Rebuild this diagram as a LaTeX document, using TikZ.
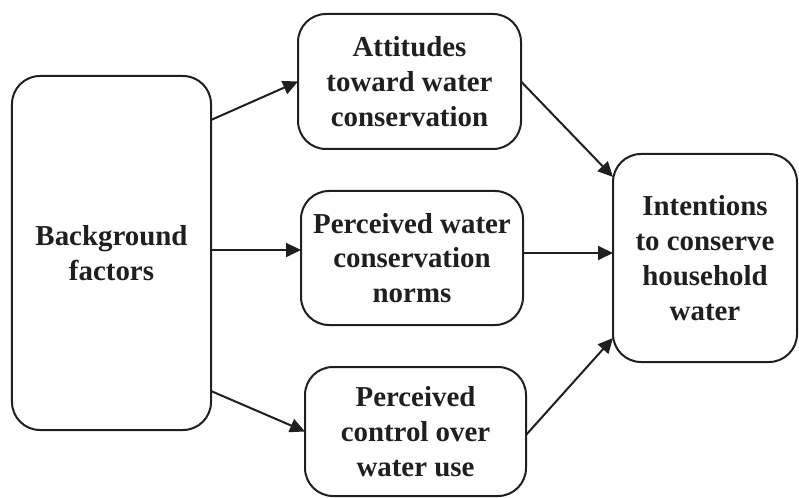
\documentclass[tikz,border=0pt]{standalone}
\usepackage{fontspec}
\setmainfont{Liberation Serif}
\usetikzlibrary{arrows.meta,calc}
\begin{document}
\begin{tikzpicture}[x=1bp,y=-1bp,
  box/.style={draw=black!88,line width=2bp,rounded corners=28bp,inner sep=0pt,outer sep=0pt,
    align=center,font=\fontsize{29}{35}\selectfont\bfseries,text=black!88},
  conn/.style={draw=black!88,line width=2bp,-{Triangle[length=15bp,width=14bp]}}]
\useasboundingbox (0,0) rectangle (799,498);
\node[box,minimum width=199bp,minimum height=354bp] (bg) at (111.5,253) {Background\\factors};
\node[box,minimum width=223bp,minimum height=135bp] (att) at (409.5,81.5) {Attitudes\\toward water\\conservation};
\node[box,minimum width=222bp,minimum height=134bp] (mid) at (412,258) {Perceived water\\conservation\\norms};
\node[box,minimum width=221bp,minimum height=129bp] (bot) at (415.5,431.5) {Perceived\\control over\\water use};
\node[box,minimum width=184bp,minimum height=208bp] (int) at (705,258) {Intentions\\to conserve\\household\\water};
\draw[conn] ([yshift=133bp]bg.east) -- (att.west);
\draw[conn] ([yshift=3bp]bg.east) -- ([yshift=3bp]bg.east -| mid.west);
\draw[conn] ([yshift=-138bp]bg.east) -- (bot.west);
\draw[conn] (att.east) -- ([yshift=81bp]int.west);
\draw[conn] ([yshift=5bp]mid.east) -- ([yshift=5bp]mid.east -| int.west);
\draw[conn] ([yshift=-3.5bp]bot.east) -- ([yshift=-80bp]int.west);
\end{tikzpicture}
\end{document}
